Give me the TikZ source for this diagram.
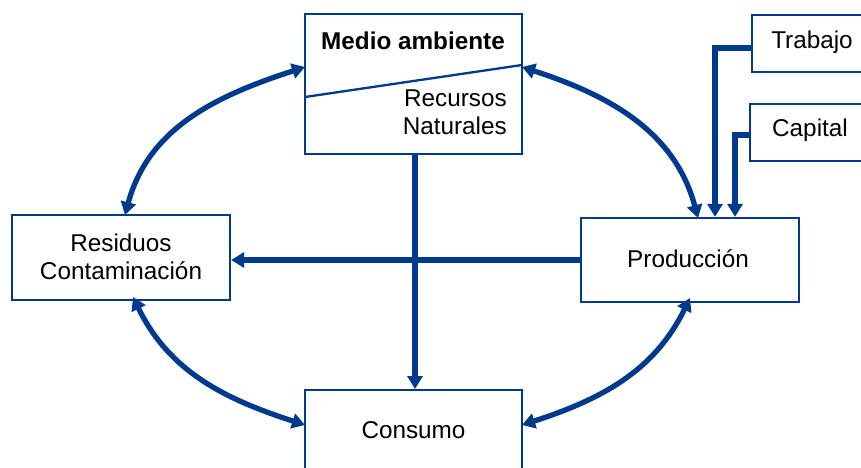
\documentclass[tikz,border=0pt]{standalone}
\usepackage{fontspec}
\setmainfont{Liberation Sans}
\usetikzlibrary{arrows.meta}
\definecolor{dblue}{RGB}{0,58,140}
\begin{document}
\begin{tikzpicture}[x=1pt,y=1pt,
  box/.style={draw=dblue, line width=2.3pt, fill=white, inner sep=0pt},
  txt/.style={font=\fontsize{24.3}{28}\selectfont, align=center, inner sep=0pt},
  flow/.style={draw=dblue, line width=5.3pt, -{Triangle[length=13pt,width=15pt]}},
  bflow/.style={draw=dblue, line width=5.3pt, {Triangle[length=13pt,width=15pt]}-{Triangle[length=13pt,width=15pt]}},
]
\useasboundingbox (0,0) rectangle (861,467);
% boxes
\node[box, minimum width=217pt, minimum height=140pt] (medio) at (413.5,383) {};
\node[box, minimum width=218pt, minimum height=85pt] (res) at (121,209.5) {};
\node[box, minimum width=218pt, minimum height=84pt] (prod) at (690,207) {};
\node[box, minimum width=217pt, minimum height=110pt, anchor=north] (cons) at (413.5,78) {};
\node[box, minimum width=140pt, minimum height=57pt, anchor=north west] (trab) at (751,453) {};
\node[box, minimum width=140pt, minimum height=57pt, anchor=north west] (cap) at (749,364) {};
% texts
\node[txt, font=\fontsize{24.3}{28}\selectfont\bfseries] (medioT) at (413,426) {Medio ambiente};
\node[txt, align=right, anchor=east] (recT) at (507,355) {Recursos\\Naturales};
\node[txt] (resT) at (121,210) {Residuos\\Contaminación};
\node[txt] (prodT) at (688,208) {Producción};
\node[txt] (consT) at (413.5,37) {Consumo};
\node[txt] (trabT) at (812,425) {Trabajo};
\node[txt] (capT) at (810,337) {Capital};
% diagonal
\coordinate (dl) at (305,370);
\coordinate (dr) at (522,402);
\draw[dblue, line width=2.3pt] (dl) -- (dr);
% straight flows
\draw[flow] (medio.south -| 415,0) -- (cons.north -| 415,0);
\draw[flow] (prod.west |- 0,207) -- (res.east |- 0,207);
% curved flows
\coordinate (mL) at (305,400);
\coordinate (mR) at (522,400);
\coordinate (rT) at (125,252);
\coordinate (rB) at (133,170);
\coordinate (pT) at (698,249);
\coordinate (pB) at (690,169);
\coordinate (cL) at (305,42);
\coordinate (cR) at (522,42);
\draw[bflow] (mL) to[out=198,in=75] (rT);
\draw[bflow] (mR) to[out=-18,in=105] (pT);
\draw[bflow] (rB) to[out=-64,in=162] (cL);
\draw[bflow] (cR) to[out=18,in=-116] (pB);
% inputs
\coordinate (tj) at (715,419);
\coordinate (cj) at (735,332);
\draw[flow] (trab.west |- tj) -- (tj) -- (tj |- prod.north);
\draw[flow] (cap.west |- cj) -- (cj) -- (cj |- prod.north);
\end{tikzpicture}
\end{document}
